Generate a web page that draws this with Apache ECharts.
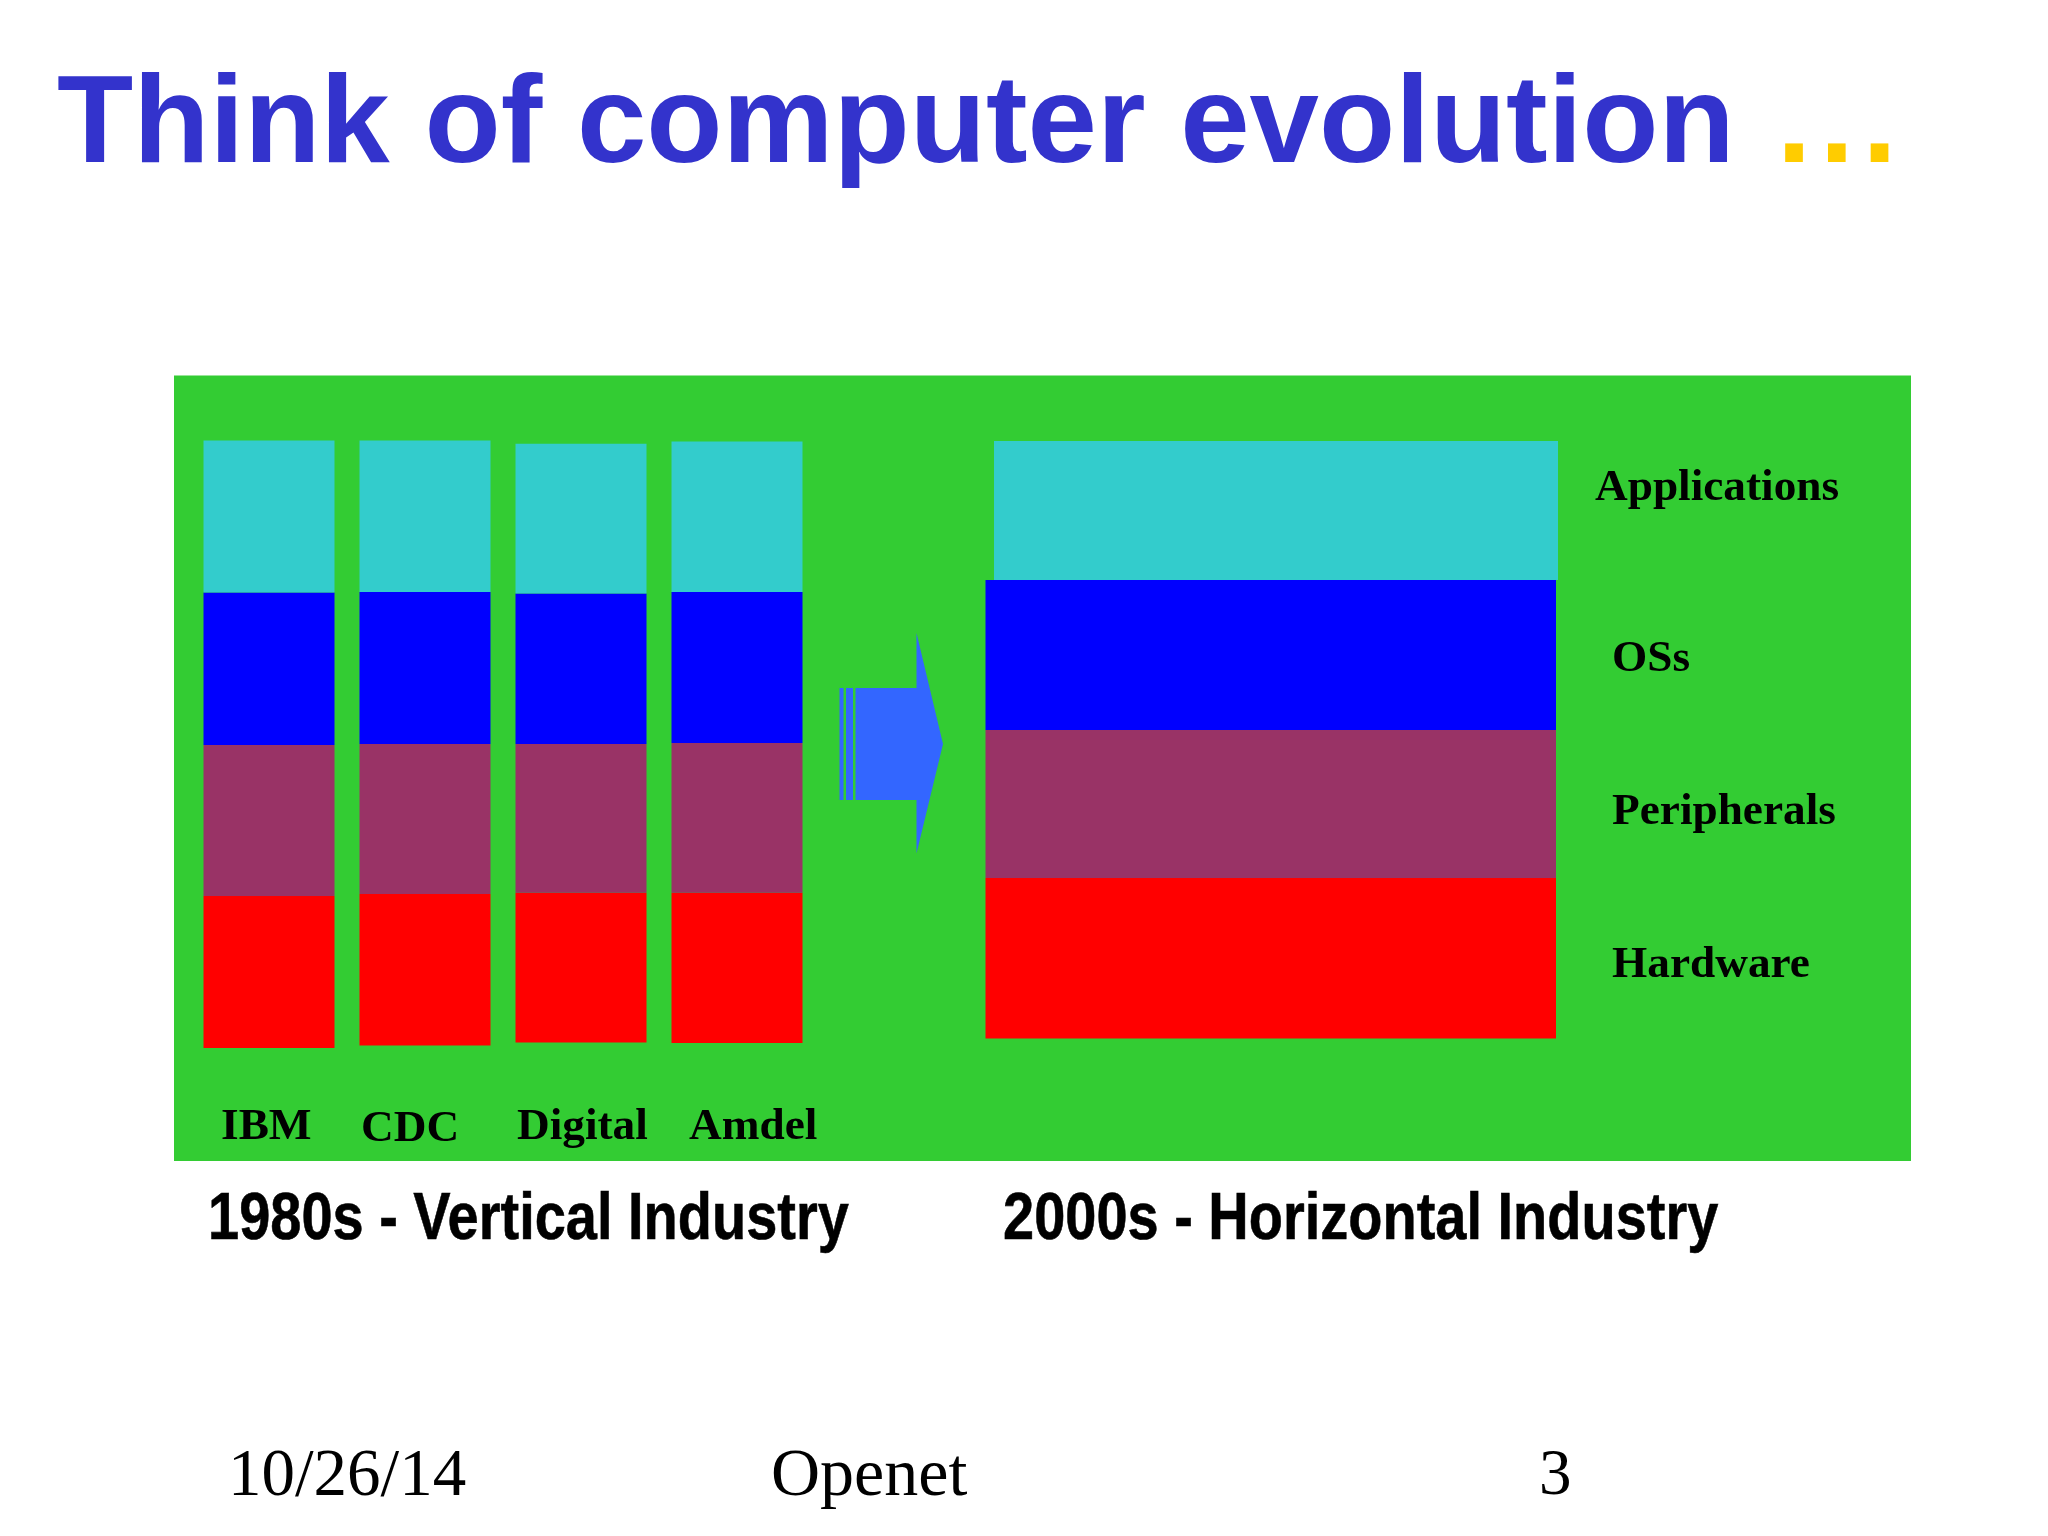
<!DOCTYPE html>
<html>
<head>
<meta charset="utf-8">
<title>Think of computer evolution</title>
<style>
  html, body { margin: 0; padding: 0; background: #fff; }
  #chart { width: 2048px; height: 1536px; }
</style>
<script src="https://cdn.jsdelivr.net/npm/echarts@6/dist/echarts.min.js"></script>
</head>
<body>
<div id="chart"></div>
<script>
'use strict';

var vendors = ['IBM', 'CDC', 'Digital', 'Amdel'];
// heights of each block (1 unit = 1px of the slide)
var vendorBase = [0, 2.6, 5.5, 5];
var vendorHardware = [152, 151.4, 149.8, 150.3];
var vendorPeripherals = [151, 150, 148.7, 149.7];
var vendorOSs = [152.5, 152, 150.4, 151];
var vendorApplications = [152.1, 151.6, 149.8, 150.5];

var layers = ['Applications', 'OSs', 'Peripherals', 'Hardware'];
var horizontalHardware = [160.5];
var horizontalPeripherals = [148];
var horizontalOSs = [150];
var horizontalApplications = [139];

var titleText = 'Think of computer evolution';
var captions = ['1980s - Vertical Industry', '2000s - Horizontal Industry'];
var footer = ['10/26/14', 'Openet', '3'];

var colors = {
  panel: '#33CC33',
  Applications: '#33CCCC',
  OSs: '#0000FF',
  Peripherals: '#993366',
  Hardware: '#FF0000',
  arrow: '#3366FF'
};

var SERIF = '"Liberation Serif", serif';
var SANS = '"Liberation Sans", sans-serif';

function text(str, x, y, size, font, weight) {
  return {
    type: 'text',
    z: 5,
    x: x,
    y: y,
    style: {
      x: 0,
      y: 0,
      text: str,
      fill: '#000',
      font: weight + ' ' + size + 'px ' + font,
      textAlign: 'left',
      textVerticalAlign: 'middle'
    }
  };
}

// no narrow face is installed, so the captions are squeezed sideways
function caption(str, x, y) {
  var el = text(str, x, y, 66, SANS, 'bold');
  el.scaleX = 0.848;
  el.style.stroke = '#000';
  el.style.lineWidth = 0.6;
  return el;
}

function stackBar(name, values, axis, width) {
  return {
    name: name,
    type: 'bar',
    stack: 'stack' + axis,
    xAxisIndex: axis,
    yAxisIndex: axis,
    barWidth: width,
    silent: true,
    itemStyle: { color: colors[name] || 'transparent' },
    data: values
  };
}

function hiddenCategory(index, data) {
  return { type: 'category', gridIndex: index, data: data, show: false };
}

function hiddenValue(index, max) {
  return { type: 'value', gridIndex: index, min: 0, max: max, show: false };
}

function dotStyle(padding) {
  return { fontFamily: '"Liberation Sans"', fontWeight: 'bold', fontSize: 124.8, color: '#FFCC00', padding: padding };
}

var chart = echarts.init(document.getElementById('chart'));

chart.setOption({
  animation: false,
  backgroundColor: '#fff',
  title: {
    left: 52,
    top: 60,
    text: '{a|' + titleText + '}{d1|.}{d2|.}{d3|.}',
    textStyle: {
      rich: {
        a: { fontFamily: '"Liberation Sans"', fontWeight: 'bold', fontSize: 124.8, color: '#3333CC' },
        // the dots sit further apart than a plain full stop
        d1: dotStyle([0, 8, 0, 42]),
        d2: dotStyle([0, 8, 0, 0]),
        d3: dotStyle([0, 0, 0, 0])
      }
    }
  },
  grid: [
    { left: 191, top: 440, width: 624, height: 608 },
    { left: 985.5, top: 580, width: 570.5, height: 458.5 },
    { left: 994, top: 441, width: 564, height: 139 }
  ],
  xAxis: [
    hiddenCategory(0, vendors),
    hiddenCategory(1, ['2000s']),
    hiddenCategory(2, ['2000s'])
  ],
  yAxis: [
    hiddenValue(0, 608),
    hiddenValue(1, 458.5),
    hiddenValue(2, 139)
  ],
  series: [
    stackBar('base', vendorBase, 0, 131),
    stackBar('Hardware', vendorHardware, 0, 131),
    stackBar('Peripherals', vendorPeripherals, 0, 131),
    stackBar('OSs', vendorOSs, 0, 131),
    stackBar('Applications', vendorApplications, 0, 131),
    stackBar('Hardware', horizontalHardware, 1, '100%'),
    stackBar('Peripherals', horizontalPeripherals, 1, '100%'),
    stackBar('OSs', horizontalOSs, 1, '100%'),
    stackBar('Applications', horizontalApplications, 2, '100%')
  ],
  graphic: [
    // green panel behind everything
    { type: 'rect', z: -10, shape: { x: 174, y: 375.5, width: 1737, height: 785.5 }, style: { fill: colors.panel } },
    // arrow with the two split stripes on its tail
    { type: 'rect', z: 1, shape: { x: 839.5, y: 688, width: 4, height: 112 }, style: { fill: colors.arrow } },
    { type: 'rect', z: 1, shape: { x: 846, y: 688, width: 7, height: 112 }, style: { fill: colors.arrow } },
    {
      type: 'polygon',
      z: 1,
      shape: { points: [[855.5, 688], [916.5, 688], [916.5, 633], [943, 744], [916.5, 853.5], [916.5, 800], [855.5, 800]] },
      style: { fill: colors.arrow }
    },
    text(vendors[0], 221, 1127, 45.3, SERIF, 'bold'),
    text(vendors[1], 361, 1129, 45.3, SERIF, 'bold'),
    text(vendors[2], 517, 1127, 45.3, SERIF, 'bold'),
    text(vendors[3], 689, 1127, 45.3, SERIF, 'bold'),
    text(layers[0], 1595, 488.5, 45.3, SERIF, 'bold'),
    text(layers[1], 1612, 659, 45.3, SERIF, 'bold'),
    text(layers[2], 1612, 812.5, 45.3, SERIF, 'bold'),
    text(layers[3], 1612, 965.5, 45.3, SERIF, 'bold'),
    caption(captions[0], 208, 1221),
    caption(captions[1], 1003, 1221),
    text(footer[0], 228, 1477, 67, SERIF, 'normal'),
    text(footer[1], 771, 1477, 68, SERIF, 'normal'),
    text(footer[2], 1539, 1477, 65, SERIF, 'normal')
  ]
});
</script>
</body>
</html>
